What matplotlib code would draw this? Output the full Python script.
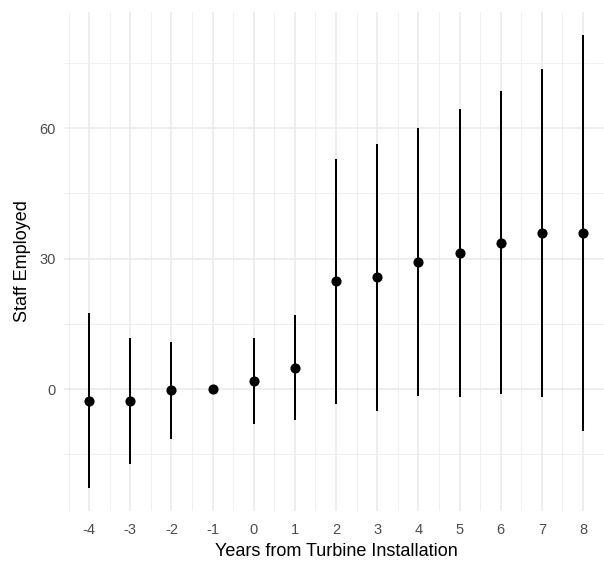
import matplotlib.pyplot as plt
from matplotlib.ticker import MultipleLocator

# event-study estimates
years = [-4, -3, -2, -1, 0, 1, 2, 3, 4, 5, 6, 7, 8]
estimate = [-2.7, -2.7, -0.2, 0.0, 1.9, 4.9, 24.8, 25.7, 29.3, 31.2, 33.7, 35.8, 35.9]
ci_low = [-22.8, -17.2, -11.4, 0.0, -7.9, -7.1, -3.3, -5.1, -1.6, -1.9, -1.0, -1.9, -9.6]
ci_high = [17.4, 11.8, 10.9, 0.0, 11.8, 17.0, 52.9, 56.3, 60.1, 64.3, 68.6, 73.5, 81.5]

plt.rcParams['font.family'] = ['Liberation Sans', 'DejaVu Sans']
plt.rcParams['axes.unicode_minus'] = False  # plain hyphen like the original

fig = plt.figure(figsize=(6.04, 5.66), dpi=100)
# panel runs slightly past the right edge like the cropped original
ax = fig.add_axes([64.4 / 604, 1 - 511 / 566, (607.7 - 64.4) / 604, (511 - 12) / 566])

ax.vlines(years, ci_low, ci_high, color='black', linewidth=1.45, zorder=3)
ax.plot(years, estimate, 'o', color='black', markersize=6.3, zorder=4)

ax.set_xlim(-4.6, 8.6)
ax.set_ylim(-28.0, 86.7)
ax.xaxis.set_major_locator(MultipleLocator(1))
ax.xaxis.set_minor_locator(MultipleLocator(0.5))
ax.yaxis.set_major_locator(MultipleLocator(30))
ax.yaxis.set_minor_locator(MultipleLocator(15))

ax.grid(which='major', color='#EBEBEB', linewidth=1.2)
ax.grid(which='minor', color='#EFEFEF', linewidth=0.7)
ax.set_axisbelow(True)
for s in ax.spines.values():
    s.set_visible(False)
ax.tick_params(which='both', length=0, labelsize=10.5, labelcolor='#4D4D4D')
ax.tick_params(axis='x', pad=9)
ax.tick_params(axis='y', pad=6)

ax.set_xlabel('Years from Turbine Installation', fontsize=13, labelpad=4)
ax.set_ylabel('Staff Employed', fontsize=13, labelpad=6)

fig.savefig('out.png', dpi=100)
